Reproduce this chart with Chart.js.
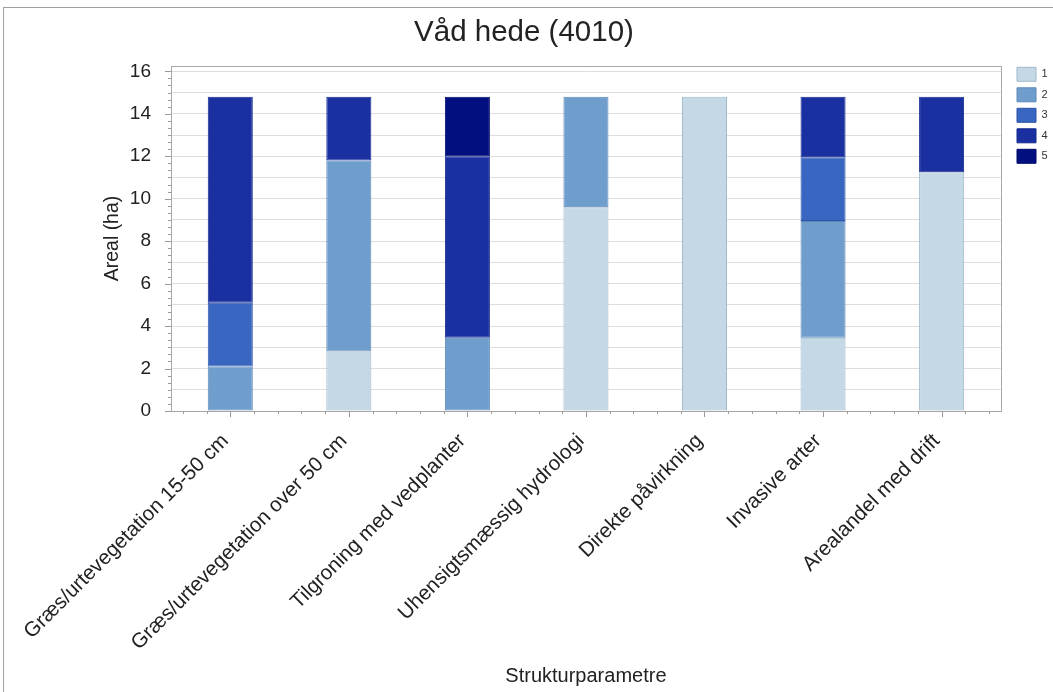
<!DOCTYPE html>
<html>
<head>
<meta charset="utf-8">
<script src="https://cdn.jsdelivr.net/npm/chart.js@4/dist/chart.umd.min.js"></script>
<style>
  html, body { margin: 0; padding: 0; background: #fff; }
  #wrap { position: relative; width: 1053px; height: 692px; overflow: hidden; }
  #frame { position: absolute; left: 3px; top: 7px; width: 1100px; height: 700px;
           border-left: 1px solid #a0a0a0; border-top: 1px solid #a0a0a0; pointer-events: none; }
  canvas { position: absolute; left: 0; top: 0; }
</style>
</head>
<body>
<div id="wrap">
  <canvas id="c" width="1053" height="692"></canvas>
  <div id="frame"></div>
</div>
<script>
const categories = [
  "Græs/urtevegetation 15-50 cm",
  "Græs/urtevegetation over 50 cm",
  "Tilgroning med vedplanter",
  "Uhensigtsmæssig hydrologi",
  "Direkte påvirkning",
  "Invasive arter",
  "Arealandel med drift"
];
const seriesNames = ["1", "2", "3", "4", "5"];
const s1 = [null, 2.8, null, 9.6, 14.8, 3.45, 11.25];
const s2 = [2.1, 9.0, 3.45, 5.2, null, 5.5, null];
const s3 = [3.0, null, null, null, null, 3.0, null];
const s4 = [9.7, 3.0, 8.55, null, null, 2.85, 3.55];
const s5 = [null, null, 2.8, null, null, null, null];
const yTickValues = [0, 2, 4, 6, 8, 10, 12, 14, 16];
const titleText = "Våd hede (4010)";
const yTitle = "Areal (ha)";
const xTitle = "Strukturparametre";

const fills = ["#c4d9e5", "#6f9ecd", "#3866c0", "#1a30a1", "#020f7f"];
const borders = ["#9fb9cc", "#5b88b9", "#2c55aa", "#14288e", "#000a6a"];
const seriesData = [s1, s2, s3, s4, s5];

const datasets = seriesData.map((d, i) => ({
  label: seriesNames[i],
  data: d,
  backgroundColor: fills[i],
  borderColor: borders[i],
  borderWidth: 1,
  borderSkipped: false,
  categoryPercentage: 1,
  barPercentage: 0.38
}));

const decor = {
  id: 'decor',
  afterLayout(chart) {
    const l = chart.legend;
    if (l) {
      const w = l.width, h = l.height;
      l.left = 1010.5; l.right = l.left + w;
      l.top = 60.8; l.bottom = l.top + h;
    }
  },
  afterDraw(chart) {
    const ctx = chart.ctx;
    const a = chart.chartArea;
    const xs = chart.scales.x, ys = chart.scales.y;
    ctx.save();
    ctx.strokeStyle = '#a8a8a8';
    ctx.lineWidth = 1;
    ctx.strokeRect(Math.round(a.left) + 0.5, Math.round(a.top) + 0.5,
                   Math.round(a.right - a.left), Math.round(a.bottom - a.top));
    // y ticks: major every 2, minor every 1/3
    ctx.strokeStyle = '#9a9a9a';
    ctx.beginPath();
    for (let k = 0; k <= 48; k++) {
      const v = k / 3;
      const py = Math.round(ys.getPixelForValue(v)) + 0.5;
      const len = (k % 6 === 0) ? 6 : 3;
      ctx.moveTo(a.left, py); ctx.lineTo(a.left - len, py);
    }
    // x ticks: long at category centres, short every fifth of a category
    const n = categories.length;
    const p0 = xs.getPixelForValue(0), step = xs.getPixelForValue(1) - p0;
    for (let k = -2; k <= n * 5 - 3; k++) {
      const px = Math.round(p0 + (k / 5) * step) + 0.5;
      if (px < a.left - 1 || px > a.right + 1) continue;
      const len = (k % 5 === 0) ? 6 : 3;
      ctx.moveTo(px, a.bottom); ctx.lineTo(px, a.bottom + len);
    }
    ctx.stroke();
    ctx.restore();
  }
};

new Chart(document.getElementById('c'), {
  type: 'bar',
  data: { labels: categories, datasets },
  plugins: [decor],
  options: {
    responsive: false,
    animation: false,
    layout: { padding: { left: 0, right: 5, top: 0, bottom: 0 } },
    plugins: {
      title: {
        display: true,
        text: titleText,
        font: { family: 'Liberation Sans', size: 29.5, weight: 'normal' },
        color: '#222',
        padding: { top: 15, bottom: 15.6 }
      },
      legend: {
        display: true,
        position: 'right',
        align: 'start',
        labels: {
          boxWidth: 19,
          boxHeight: 14,
          padding: 6.5,
          font: { family: 'Liberation Sans', size: 11 },
          color: '#333'
        }
      },
      tooltip: { enabled: false }
    },
    scales: {
      x: {
        stacked: true,
        offset: true,
        grid: { display: false, drawTicks: false },
        border: { display: true, color: '#a8a8a8' },
        ticks: {
          maxRotation: 45,
          minRotation: 45,
          autoSkip: false,
          padding: 18,
          labelOffset: -5,
          color: '#222',
          font: { family: 'Liberation Sans', size: 20.6 }
        },
        title: {
          display: true,
          text: xTitle,
          color: '#222',
          font: { family: 'Liberation Sans', size: 20 },
          padding: { top: 0, bottom: 4 }
        },
        afterFit(scale) { scale.height = 281; }
      },
      y: {
        stacked: true,
        min: 0,
        max: 16.25,
        grid: { color: '#dedede', drawTicks: false },
        border: { display: true, color: '#a8a8a8' },
        afterBuildTicks(scale) {
          const t = [];
          for (let v = 0; v <= 16; v++) t.push({ value: v });
          scale.ticks = t;
        },
        ticks: {
          autoSkip: false,
          padding: 20,
          color: '#222',
          font: { family: 'Liberation Sans', size: 19 },
          callback: (v) => yTickValues.includes(v) ? String(v) : ''
        },
        title: {
          display: true,
          text: yTitle,
          color: '#222',
          font: { family: 'Liberation Sans', size: 19.5 },
          padding: { top: 101.3, bottom: 0 }
        },
        afterFit(scale) { scale.width = 171; }
      }
    }
  }
});
</script>
</body>
</html>
